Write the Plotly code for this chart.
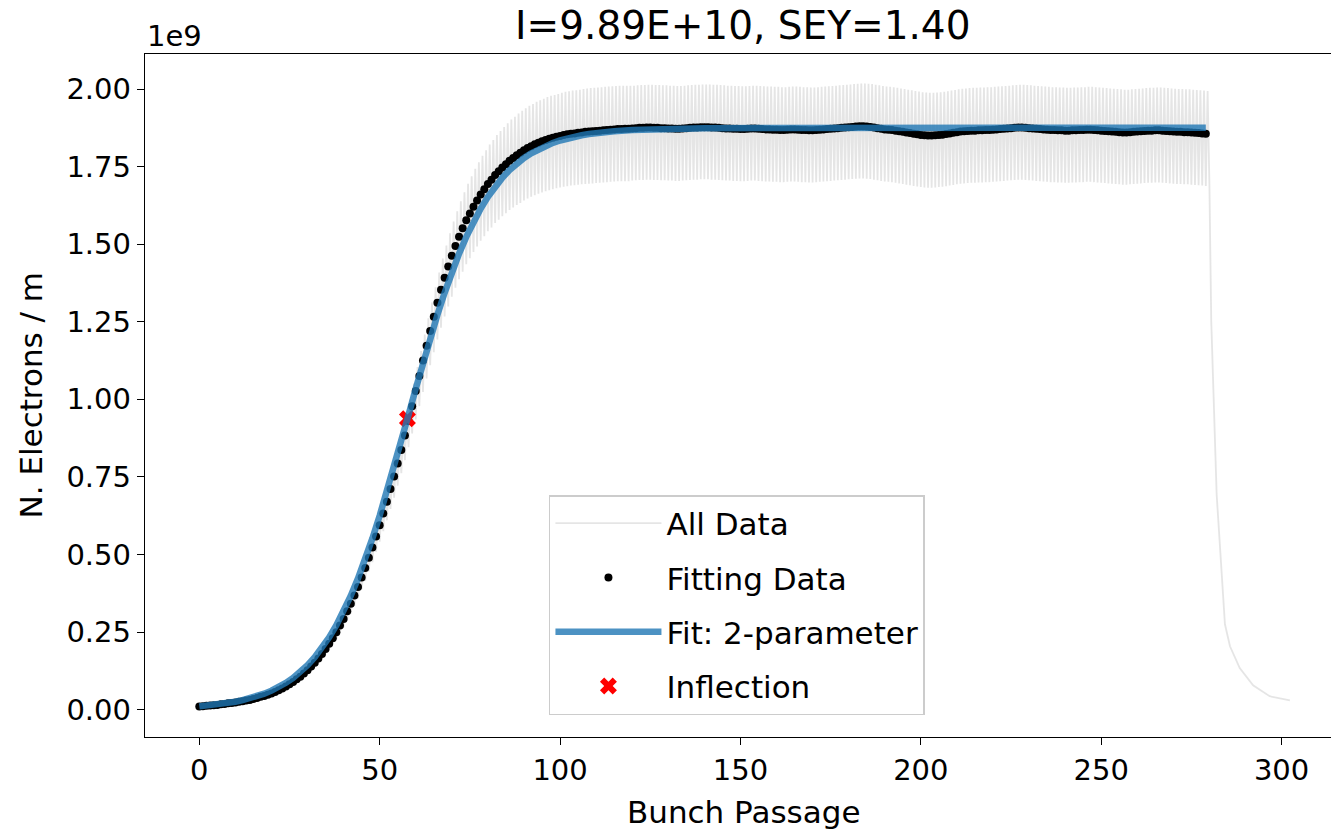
import numpy as np
import plotly.graph_objects as go

# ---------------- data (values in units of 1e9 electrons / m) ----------------
bunch = np.arange(0, 280)

fit_data = [
    0.010, 0.011, 0.012, 0.013, 0.014, 0.015, 0.017, 0.018, 0.020, 0.021,
    0.023, 0.025, 0.027, 0.029, 0.031, 0.034, 0.037, 0.041, 0.044, 0.048,
    0.052, 0.057, 0.062, 0.068, 0.074, 0.082, 0.089, 0.098, 0.106, 0.116,
    0.127, 0.139, 0.151, 0.165, 0.179, 0.195, 0.212, 0.230, 0.249, 0.271,
    0.292, 0.317, 0.341, 0.368, 0.395, 0.426, 0.456, 0.489, 0.522, 0.558,
    0.594, 0.632, 0.670, 0.711, 0.751, 0.793, 0.837, 0.883, 0.930, 0.978,
    1.027, 1.075, 1.125, 1.173, 1.220, 1.266, 1.311, 1.353, 1.392, 1.428,
    1.463, 1.494, 1.524, 1.551, 1.577, 1.599, 1.621, 1.641, 1.660, 1.677,
    1.694, 1.708, 1.723, 1.735, 1.747, 1.758, 1.769, 1.778, 1.787, 1.795,
    1.803, 1.810, 1.816, 1.822, 1.827, 1.832, 1.836, 1.840, 1.843, 1.846,
    1.849, 1.852, 1.854, 1.856, 1.857, 1.859, 1.860, 1.862, 1.863, 1.864,
    1.865, 1.866, 1.867, 1.868, 1.869, 1.870, 1.871, 1.871, 1.872, 1.872,
    1.873, 1.874, 1.875, 1.875, 1.876, 1.876, 1.875, 1.875, 1.874, 1.874,
    1.873, 1.873, 1.872, 1.872, 1.873, 1.874, 1.875, 1.876, 1.876, 1.877,
    1.877, 1.877, 1.876, 1.876, 1.875, 1.874, 1.873, 1.873, 1.872, 1.872,
    1.871, 1.871, 1.872, 1.873, 1.873, 1.872, 1.871, 1.870, 1.870, 1.869,
    1.869, 1.868, 1.868, 1.869, 1.870, 1.870, 1.869, 1.868, 1.868, 1.867,
    1.867, 1.868, 1.869, 1.870, 1.871, 1.872, 1.873, 1.874, 1.875, 1.876,
    1.877, 1.878, 1.879, 1.880, 1.880, 1.879, 1.878, 1.876, 1.874, 1.872,
    1.870, 1.869, 1.868, 1.866, 1.864, 1.862, 1.860, 1.858, 1.856, 1.854,
    1.852, 1.851, 1.850, 1.850, 1.851, 1.852, 1.853, 1.855, 1.857, 1.859,
    1.861, 1.863, 1.864, 1.865, 1.866, 1.866, 1.867, 1.867, 1.868, 1.868,
    1.869, 1.870, 1.871, 1.872, 1.873, 1.874, 1.875, 1.876, 1.876, 1.875,
    1.874, 1.873, 1.872, 1.871, 1.870, 1.869, 1.868, 1.868, 1.867, 1.867,
    1.866, 1.866, 1.867, 1.867, 1.868, 1.868, 1.869, 1.869, 1.868, 1.867,
    1.866, 1.865, 1.864, 1.863, 1.862, 1.861, 1.860, 1.860, 1.861, 1.862,
    1.863, 1.864, 1.865, 1.866, 1.866, 1.867, 1.867, 1.866, 1.865, 1.864,
    1.863, 1.862, 1.862, 1.861, 1.861, 1.860, 1.859, 1.858, 1.857, 1.856,
]

# upper / lower envelope of the raw signal at each bunch passage
all_hi = [
    0.011, 0.012, 0.013, 0.014, 0.015, 0.016, 0.018, 0.019, 0.022, 0.023,
    0.025, 0.027, 0.029, 0.031, 0.033, 0.037, 0.040, 0.044, 0.047, 0.052,
    0.056, 0.061, 0.067, 0.073, 0.080, 0.088, 0.096, 0.105, 0.114, 0.125,
    0.137, 0.149, 0.162, 0.177, 0.192, 0.210, 0.228, 0.247, 0.268, 0.291,
    0.314, 0.341, 0.367, 0.396, 0.425, 0.458, 0.490, 0.526, 0.561, 0.600,
    0.639, 0.679, 0.720, 0.764, 0.807, 0.852, 0.900, 0.949, 1.000, 1.051,
    1.104, 1.156, 1.209, 1.261, 1.312, 1.361, 1.409, 1.454, 1.496, 1.535,
    1.573, 1.606, 1.638, 1.667, 1.695, 1.719, 1.743, 1.764, 1.785, 1.803,
    1.821, 1.836, 1.852, 1.865, 1.878, 1.890, 1.902, 1.911, 1.921, 1.930,
    1.938, 1.946, 1.952, 1.959, 1.964, 1.969, 1.974, 1.978, 1.981, 1.984,
    1.988, 1.991, 1.993, 1.995, 1.996, 1.998, 2.000, 2.002, 2.003, 2.004,
    2.005, 2.006, 2.007, 2.008, 2.009, 2.010, 2.011, 2.011, 2.011, 2.011,
    2.011, 2.012, 2.013, 2.013, 2.014, 2.014, 2.013, 2.013, 2.012, 2.012,
    2.011, 2.011, 2.010, 2.010, 2.011, 2.012, 2.013, 2.014, 2.014, 2.015,
    2.015, 2.015, 2.014, 2.014, 2.013, 2.012, 2.011, 2.011, 2.010, 2.010,
    2.009, 2.009, 2.010, 2.011, 2.011, 2.010, 2.009, 2.008, 2.008, 2.007,
    2.007, 2.006, 2.006, 2.007, 2.008, 2.008, 2.007, 2.006, 2.006, 2.005,
    2.005, 2.006, 2.007, 2.008, 2.009, 2.010, 2.011, 2.012, 2.013, 2.014,
    2.015, 2.016, 2.017, 2.018, 2.018, 2.017, 2.016, 2.014, 2.012, 2.010,
    2.008, 2.007, 2.006, 2.004, 2.002, 2.000, 1.998, 1.996, 1.994, 1.992,
    1.990, 1.989, 1.988, 1.988, 1.989, 1.990, 1.991, 1.993, 1.995, 1.997,
    1.999, 2.001, 2.002, 2.003, 2.004, 2.004, 2.005, 2.005, 2.006, 2.006,
    2.007, 2.008, 2.009, 2.010, 2.011, 2.012, 2.013, 2.014, 2.014, 2.013,
    2.012, 2.011, 2.010, 2.009, 2.008, 2.007, 2.006, 2.006, 2.005, 2.005,
    2.004, 2.004, 2.005, 2.005, 2.006, 2.006, 2.007, 2.007, 2.006, 2.005,
    2.004, 2.003, 2.002, 2.001, 2.000, 1.999, 1.998, 1.998, 1.999, 2.000,
    2.001, 2.002, 2.003, 2.004, 2.004, 2.005, 2.005, 2.004, 2.003, 2.002,
    2.001, 2.000, 2.000, 1.999, 1.999, 1.998, 1.997, 1.996, 1.995, 1.994,
]

all_lo = [
    0.009, 0.010, 0.011, 0.012, 0.013, 0.014, 0.015, 0.016, 0.018, 0.019,
    0.021, 0.023, 0.025, 0.026, 0.028, 0.031, 0.034, 0.037, 0.040, 0.044,
    0.047, 0.052, 0.056, 0.062, 0.067, 0.075, 0.081, 0.089, 0.096, 0.106,
    0.116, 0.126, 0.137, 0.150, 0.163, 0.177, 0.193, 0.209, 0.227, 0.247,
    0.266, 0.288, 0.310, 0.335, 0.359, 0.388, 0.415, 0.445, 0.475, 0.508,
    0.541, 0.575, 0.610, 0.647, 0.683, 0.722, 0.762, 0.804, 0.846, 0.890,
    0.935, 0.978, 1.024, 1.067, 1.110, 1.152, 1.193, 1.231, 1.267, 1.299,
    1.331, 1.360, 1.387, 1.411, 1.435, 1.455, 1.475, 1.493, 1.511, 1.526,
    1.542, 1.554, 1.568, 1.579, 1.590, 1.600, 1.610, 1.618, 1.626, 1.633,
    1.641, 1.647, 1.653, 1.658, 1.663, 1.667, 1.671, 1.674, 1.677, 1.680,
    1.683, 1.685, 1.687, 1.689, 1.690, 1.692, 1.693, 1.694, 1.695, 1.696,
    1.697, 1.698, 1.699, 1.700, 1.701, 1.702, 1.703, 1.703, 1.703, 1.703,
    1.705, 1.706, 1.707, 1.707, 1.708, 1.708, 1.707, 1.707, 1.706, 1.706,
    1.705, 1.705, 1.704, 1.704, 1.705, 1.706, 1.707, 1.708, 1.708, 1.709,
    1.709, 1.709, 1.708, 1.708, 1.707, 1.706, 1.705, 1.705, 1.704, 1.704,
    1.703, 1.703, 1.704, 1.705, 1.705, 1.704, 1.703, 1.702, 1.702, 1.701,
    1.701, 1.700, 1.700, 1.701, 1.702, 1.702, 1.701, 1.700, 1.700, 1.699,
    1.699, 1.700, 1.701, 1.702, 1.703, 1.704, 1.705, 1.706, 1.707, 1.708,
    1.709, 1.710, 1.711, 1.712, 1.712, 1.711, 1.710, 1.708, 1.706, 1.704,
    1.702, 1.701, 1.700, 1.698, 1.696, 1.694, 1.692, 1.690, 1.688, 1.686,
    1.684, 1.683, 1.682, 1.682, 1.683, 1.684, 1.685, 1.687, 1.689, 1.691,
    1.693, 1.695, 1.696, 1.697, 1.698, 1.698, 1.699, 1.699, 1.700, 1.700,
    1.701, 1.702, 1.703, 1.704, 1.705, 1.706, 1.707, 1.708, 1.708, 1.707,
    1.706, 1.705, 1.704, 1.703, 1.702, 1.701, 1.700, 1.700, 1.699, 1.699,
    1.698, 1.698, 1.699, 1.699, 1.700, 1.700, 1.701, 1.701, 1.700, 1.699,
    1.698, 1.697, 1.696, 1.695, 1.694, 1.693, 1.692, 1.692, 1.693, 1.694,
    1.695, 1.696, 1.697, 1.698, 1.698, 1.699, 1.699, 1.698, 1.697, 1.696,
    1.695, 1.694, 1.694, 1.693, 1.693, 1.692, 1.691, 1.690, 1.689, 1.688,
]

# decay of the raw signal after the last bunch
tail_x = [280.0, 280.5, 282.0, 283.4, 284.3, 285.7, 288.4, 292.1, 296.7, 302.3]
tail_y = [1.690, 1.254, 0.694, 0.414, 0.275, 0.204, 0.134, 0.078, 0.043, 0.030]

# 2-parameter fit curve
fit_x = [0, 2, 4, 6, 8, 10, 12, 14, 16, 18, 20, 22, 24, 26, 28, 30, 32, 34, 36, 38,
         40, 42, 44, 46, 48, 50, 52, 54, 56, 58, 60, 62, 64, 66, 68, 70, 72, 74, 76, 78,
         80, 82, 84, 86, 88, 90, 92, 94, 96, 98, 100, 102, 104, 106, 108, 110, 115, 120,
         130, 140, 160, 200, 240, 279]
fit_y = [0.0104, 0.0124, 0.0148, 0.0177, 0.0212, 0.0253, 0.0302, 0.0360, 0.0430, 0.0512,
         0.0610, 0.0725, 0.0862, 0.1022, 0.1211, 0.1431, 0.1689, 0.1986, 0.2329, 0.2722,
         0.3168, 0.3671, 0.4232, 0.4850, 0.5525, 0.6250, 0.7021, 0.7828, 0.8659, 0.9501,
         1.0341, 1.1166, 1.1963, 1.2722, 1.3433, 1.4092, 1.4693, 1.5236, 1.5721, 1.6151,
         1.6529, 1.6858, 1.7143, 1.7388, 1.7599, 1.7779, 1.7932, 1.8062, 1.8171, 1.8264,
         1.8342, 1.8408, 1.8464, 1.8510, 1.8550, 1.8582, 1.8643, 1.8681, 1.8722, 1.8739,
         1.8748, 1.8750, 1.8750, 1.8750]

infl_x = [57.7]
infl_y = [0.9375]

x_ticks = [0, 50, 100, 150, 200, 250, 300]
y_ticks = [0.0, 0.25, 0.5, 0.75, 1.0, 1.25, 1.5, 1.75, 2.0]
title_text = "I=9.89E+10, SEY=1.40"

# ---------------- build raw signal trace ----------------
hi_arr = np.array(all_hi)
lo_arr = np.array(all_lo)
raw_x = np.ravel(np.column_stack([bunch, bunch + 0.5]))
raw_y = np.ravel(np.column_stack([lo_arr, hi_arr]))
raw_x = np.concatenate([raw_x, tail_x])
raw_y = np.concatenate([raw_y, tail_y])

FONT = "DejaVu Sans"

fig = go.Figure()
fig.add_trace(go.Scatter(
    x=raw_x, y=raw_y, mode="lines", name="All Data",
    line=dict(color="rgba(211,211,211,0.6)", width=1.8),
    legendgroup="a", legendrank=1, hoverinfo="skip"))
fig.add_trace(go.Scatter(
    x=bunch, y=fit_data, mode="markers", name="Fitting Data",
    marker=dict(color="black", size=8, line=dict(width=0)),
    legendgroup="b", legendrank=2))
fig.add_trace(go.Scatter(
    x=infl_x, y=infl_y, mode="markers", name="Inflection",
    marker=dict(color="red", size=15, symbol="x", line=dict(width=0)),
    legendgroup="d", legendrank=4))
fig.add_trace(go.Scatter(
    x=fit_x, y=fit_y, mode="lines", name="Fit: 2-parameter",
    line=dict(color="rgba(31,119,180,0.8)", width=6.5),
    legendgroup="c", legendrank=3))

axis_common = dict(
    showgrid=False, zeroline=False, showline=True, linecolor="black", linewidth=1.4,
    ticks="outside", ticklen=7, tickwidth=1.4, tickcolor="black",
    tickfont=dict(family=FONT, size=29, color="black"),
)
fig.update_xaxes(range=[-15.05, 313.7], tickvals=x_ticks, mirror=True, **axis_common)
fig.update_yaxes(range=[-0.0884, 2.113], tickvals=y_ticks, tickformat=".2f", mirror=False,
                 **axis_common)

fig.update_layout(
    width=1331, height=830,
    margin=dict(l=145, r=0, t=54, b=93, pad=0),
    paper_bgcolor="white", plot_bgcolor="white",
    font=dict(family=FONT, color="black"),
    showlegend=True,
    legend=dict(
        x=0.3406, y=0.3543, xanchor="left", yanchor="top",
        bgcolor="rgba(255,255,255,0.8)", bordercolor="#cccccc", borderwidth=1.5,
        font=dict(family=FONT, size=31, color="black"),
        tracegroupgap=11, itemsizing="trace", itemwidth=106,
    ),
    annotations=[
        dict(text=title_text, xref="paper", yref="paper", x=0.5046, y=1,
             xanchor="center", yanchor="middle", yshift=29, showarrow=False,
             font=dict(family=FONT, size=39, color="black")),
        dict(text="1e9", xref="paper", yref="paper", x=0, y=1,
             xanchor="left", yanchor="middle", yshift=18, showarrow=False,
             font=dict(family=FONT, size=29, color="black")),
        dict(text="Bunch Passage", xref="paper", yref="paper", x=0.5046, y=0,
             xanchor="center", yanchor="middle", yshift=-75, showarrow=False,
             font=dict(family=FONT, size=31, color="black")),
        dict(text="N. Electrons / m", xref="paper", yref="paper", x=0, y=0.5,
             xanchor="center", yanchor="middle", xshift=-115, textangle=-90,
             showarrow=False, font=dict(family=FONT, size=31, color="black")),
    ],
)

fig.write_html("out.html")
